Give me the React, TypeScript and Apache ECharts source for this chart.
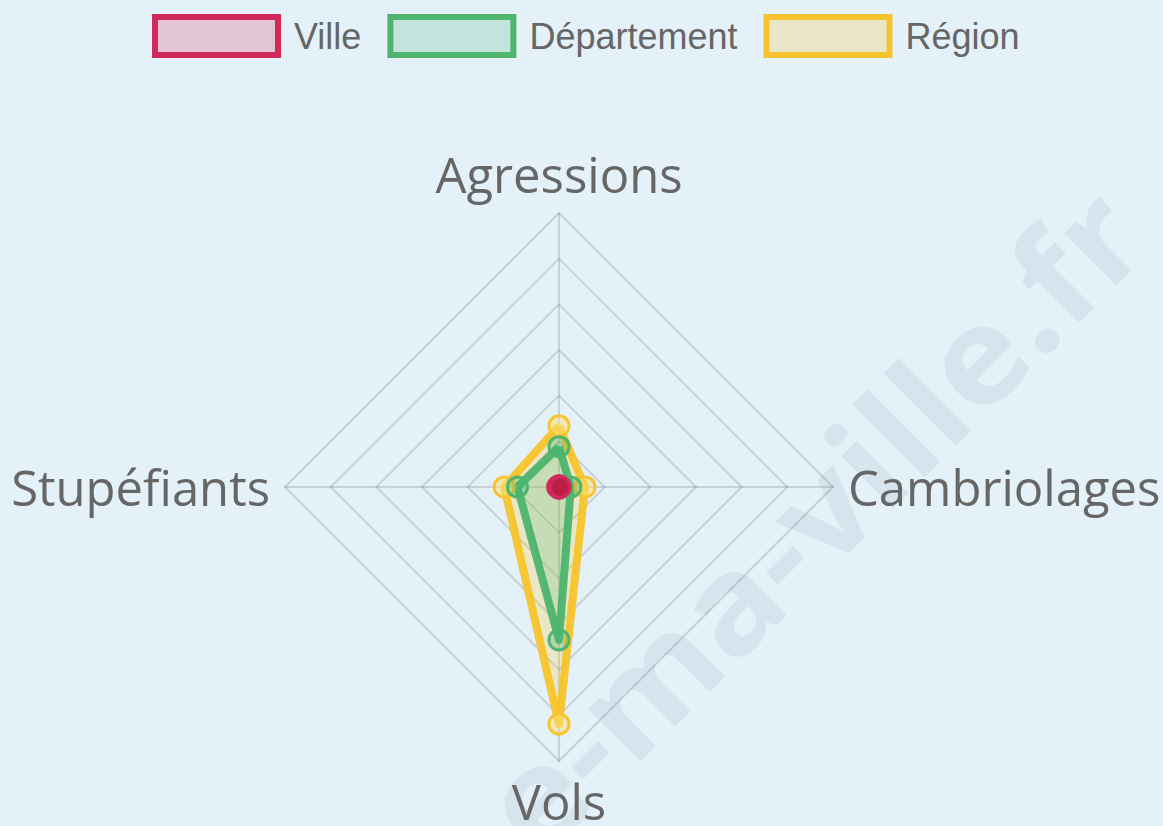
import React, { useEffect, useRef } from "react";
import * as echarts from "echarts";

// Indicators in ECharts order (counter-clockwise from top)
const categories = ["Agressions", "Stupéfiants", "Vols", "Cambriolages"];
const scaleMax = 6;
const villeValues = [0.03, 0.03, 0.03, 0.03];
const departementValues = [0.88, 0.91, 3.35, 0.26];
const regionValues = [1.34, 1.2, 5.19, 0.57];
const legendNames = ["Ville", "Département", "Région"];
const watermarkText = "e-ma-ville.fr";

const styles: Record<string, { line: string; fill: string; point: string }> = {
  Ville: { line: "#d02a5a", fill: "rgba(220,20,60,0.2)", point: "rgba(190,30,70,0.75)" },
  "Département": { line: "#4fb46c", fill: "rgba(60,179,113,0.2)", point: "rgba(60,179,113,0.3)" },
  "Région": { line: "#f6c42f", fill: "rgba(255,193,7,0.2)", point: "rgba(255,225,120,0.5)" },
};

export default function App() {
  const ref = useRef<HTMLDivElement>(null);
  useEffect(() => {
    if (!ref.current) return;
    const chart = echarts.init(ref.current, null, { renderer: "svg" });
    const seriesData: Record<string, number[]> = {
      Ville: villeValues,
      "Département": departementValues,
      "Région": regionValues,
    };
    const drawOrder = ["Région", "Département", "Ville"];
    chart.setOption({
      animation: false,
      backgroundColor: "#e4f1f8",
      graphic: [
        {
          type: "text",
          x: 810,
          y: 518,
          rotation: Math.PI / 4,
          scaleX: 1.07,
          z: 0,
          silent: true,
          style: {
            text: watermarkText,
            font: "bold 135px 'Open Sans'",
            fill: "#d6e5ed",
            align: "center",
            verticalAlign: "middle",
          },
        },
      ],
      legend: {
        left: 147,
        top: 9,
        icon: "rect",
        itemWidth: 123,
        itemHeight: 38,
        itemGap: 26,
        textStyle: {
          fontFamily: "Liberation Sans",
          fontSize: 36,
          color: "#666666",
          padding: [0, 0, 0, 11],
        },
        data: legendNames.map((n) => ({
          name: n,
          itemStyle: { color: styles[n].fill, borderColor: styles[n].line, borderWidth: 6 },
        })),
      },
      radar: {
        center: [559, 487],
        radius: 274,
        startAngle: 90,
        shape: "polygon",
        splitNumber: 6,
        indicator: categories.map((c) => ({ name: c, max: scaleMax, min: 0 })),
        axisName: {
          color: "#666666",
          fontFamily: "Open Sans",
          fontSize: 49,
        },
        nameGap: 15,
        splitLine: { lineStyle: { color: "rgba(0,0,0,0.13)", width: 2 } },
        axisLine: { lineStyle: { color: "rgba(0,0,0,0.13)", width: 2 } },
        splitArea: { show: false },
      },
      series: [
        {
          type: "radar",
          z: 5,
          data: drawOrder.map((n) => ({
            name: n,
            value: seriesData[n],
            symbol: "circle",
            symbolSize: 20,
            lineStyle: { color: styles[n].line, width: 8, opacity: 0.95 },
            areaStyle: { color: styles[n].fill, opacity: 1 },
            itemStyle: { color: styles[n].point, borderColor: styles[n].line, borderWidth: 3 },
          })),
        },
      ],
    });
    return () => chart.dispose();
  }, []);
  return (
    <div
      ref={ref}
      style={{ position: "absolute", left: 0, top: 0, width: 1163, height: 826 }}
    />
  );
}
